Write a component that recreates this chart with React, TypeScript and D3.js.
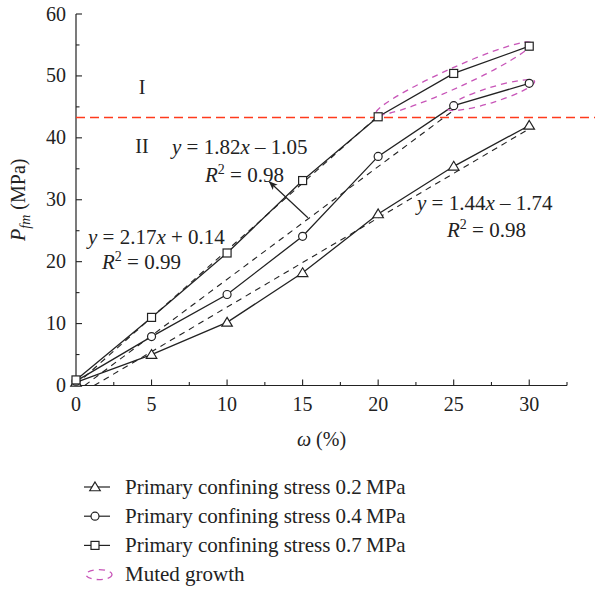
import React from "react";
import * as d3 from "d3";

const xValues = [0, 5, 10, 15, 20, 25, 30];
const series02 = [0.5, 5.0, 10.2, 18.2, 27.7, 35.4, 42.0];
const series04 = [0.7, 7.9, 14.7, 24.1, 37.0, 45.2, 48.8];
const series07 = [0.9, 11.0, 21.4, 33.1, 43.4, 50.4, 54.8];
const xTicks = [0, 5, 10, 15, 20, 25, 30];
const yTicks = [0, 10, 20, 30, 40, 50, 60];
const legendLabels = [
  "Primary confining stress 0.2\u2009MPa",
  "Primary confining stress 0.4\u2009MPa",
  "Primary confining stress 0.7\u2009MPa",
  "Muted growth",
];
// fits: slope, intercept, x range
const fit02 = { a: 1.44, b: -1.74, x0: 1.2, x1: 30 };
const fit04 = { a: 1.82, b: -1.05, x0: 0.58, x1: 25 };
const fit07 = { a: 2.17, b: 0.14, x0: 0, x1: 20 };
const thresholdY = 43.3;
// ellipse tips in data units
const ellipseUpper = [[19.85, 43.9], [30.15, 55.3]];
const ellipseLower = [[24.6, 44.7], [30.35, 49.1]];
const arrowFrom = [15.35, 27.1];
const arrowTo = [12.8, 32.9];

const W = 595;
const H = 591;
const FONT = "'Liberation Serif', 'Times New Roman', serif";

export default function App() {
  const x = d3.scaleLinear().domain([0, 32.5]).range([76, 567]);
  const y = d3.scaleLinear().domain([0, 60]).range([385.5, 14]);
  const line = d3
    .line<[number, number]>()
    .x((d) => x(d[0]))
    .y((d) => y(d[1]));

  const seriesList = [
    { vals: series02, shape: "tri" },
    { vals: series04, shape: "circ" },
    { vals: series07, shape: "sq" },
  ];
  const fits = [fit02, fit04, fit07];

  const marker = (shape: string, cx: number, cy: number, key: string) => {
    const st = { fill: "#fff", stroke: "#222", strokeWidth: 1.2 };
    if (shape === "sq")
      return <rect key={key} x={cx - 4} y={cy - 4} width={8} height={8} {...st} />;
    if (shape === "circ") return <circle key={key} cx={cx} cy={cy} r={4} {...st} />;
    const s = 5;
    return (
      <path
        key={key}
        d={`M${cx},${cy - s} L${cx + s * 1.05},${cy + s * 0.75} L${cx - s * 1.05},${cy + s * 0.75} Z`}
        {...st}
      />
    );
  };

  const ellipse = (tips: number[][], ry: number, key: string) => {
    const [p0, p1] = tips;
    const ax = x(p0[0]), ay = y(p0[1]), bx = x(p1[0]), by = y(p1[1]);
    const cx = (ax + bx) / 2, cy = (ay + by) / 2;
    const rx = Math.hypot(bx - ax, by - ay) / 2;
    const ang = (Math.atan2(by - ay, bx - ax) * 180) / Math.PI;
    return (
      <ellipse
        key={key}
        cx={cx}
        cy={cy}
        rx={rx}
        ry={ry}
        transform={`rotate(${ang},${cx},${cy})`}
        fill="none"
        stroke="#c855b8"
        strokeWidth={1.3}
        strokeDasharray="6,5"
      />
    );
  };

  const xMinor = d3.range(0, 32.6, 2.5);
  const yMinor = d3.range(0, 60.1, 5);

  const eq = (lx: number, by: number, a: string, sign: string, b: string, key: string) => (
    <text key={key} x={lx} y={by} fontFamily={FONT} fontSize={21} fill="#222">
      <tspan fontStyle="italic">y</tspan>
      <tspan>{` = ${a}`}</tspan>
      <tspan fontStyle="italic">x</tspan>
      <tspan>{` ${sign} ${b}`}</tspan>
    </text>
  );
  const r2 = (lx: number, by: number, v: string, key: string) => (
    <text key={key} x={lx} y={by} fontFamily={FONT} fontSize={21} fill="#222">
      <tspan fontStyle="italic">R</tspan>
      <tspan fontSize={14} dy={-8}>2</tspan>
      <tspan dy={8}>{` = ${v}`}</tspan>
    </text>
  );

  return (
    <svg
      width={W}
      height={H}
      style={{ position: "absolute", left: 0, top: 0, background: "#fff" }}
      fontFamily={FONT}
    >
      <defs>
        <marker id="ah" viewBox="0 0 10 10" refX="9" refY="5" markerWidth="9" markerHeight="9" orient="auto-start-reverse" markerUnits="userSpaceOnUse">
          <path d="M0,1 L10,5 L0,9 L2.5,5 Z" fill="#222" />
        </marker>
      </defs>
      <rect x={0} y={0} width={W} height={H} fill="#fff" />

      {/* axes */}
      <line x1={x(0)} x2={x(32.5)} y1={y(0)} y2={y(0)} stroke="#222" strokeWidth={1.2} />
      <line x1={x(0)} x2={x(0)} y1={y(0)} y2={y(60)} stroke="#222" strokeWidth={1.2} />
      {xMinor.map((v, i) => (
        <line key={"xt" + i} x1={x(v)} x2={x(v)} y1={y(0)} y2={y(0) - (i % 2 === 0 ? 6 : 3.5)} stroke="#222" strokeWidth={1.1} />
      ))}
      {yMinor.map((v, i) => (
        <line key={"yt" + i} x1={x(0)} x2={x(0) + (i % 2 === 0 ? 6 : 3.5)} y1={y(v)} y2={y(v)} stroke="#222" strokeWidth={1.1} />
      ))}
      {xTicks.map((v) => (
        <text key={"xl" + v} x={x(v)} y={411} textAnchor="middle" fontSize={20} fill="#222">
          {v}
        </text>
      ))}
      {yTicks.map((v) => (
        <text key={"yl" + v} x={66} y={y(v) + 6.5} textAnchor="end" fontSize={20} fill="#222">
          {v}
        </text>
      ))}
      <text x={(x(0) + x(32.5)) / 2} y={446} textAnchor="middle" fontSize={20} fill="#222">
        <tspan fontStyle="italic">ω</tspan>
        <tspan> (%)</tspan>
      </text>
      <text transform={`translate(25,${(y(0) + y(60)) / 2}) rotate(-90)`} textAnchor="middle" fontSize={20} fill="#222">
        <tspan fontStyle="italic">P</tspan>
        <tspan fontStyle="italic" fontSize={14} dy={5}>fm</tspan>
        <tspan dy={-5}> (MPa)</tspan>
      </text>

      {/* threshold */}
      <line x1={x(0)} x2={W} y1={y(thresholdY)} y2={y(thresholdY)} stroke="#ff3b1c" strokeWidth={1.5} strokeDasharray="9,5" />

      {/* fits */}
      {fits.map((f, i) => (
        <path
          key={"fit" + i}
          d={line([[f.x0, f.a * f.x0 + f.b], [f.x1, f.a * f.x1 + f.b]]) || ""}
          fill="none"
          stroke="#222"
          strokeWidth={1.1}
          strokeDasharray="6,5"
        />
      ))}

      {/* series */}
      {seriesList.map((s, i) => (
        <path
          key={"s" + i}
          d={line(xValues.map((xv, j) => [xv, s.vals[j]] as [number, number])) || ""}
          fill="none"
          stroke="#222"
          strokeWidth={1.3}
        />
      ))}

      {/* ellipses */}
      {ellipse(ellipseUpper, 10, "eu")}
      {ellipse(ellipseLower, 7.5, "el")}

      {seriesList.map((s, i) =>
        xValues.map((xv, j) => marker(s.shape, x(xv), y(s.vals[j]), `m${i}-${j}`))
      )}

      {/* arrow */}
      <line x1={x(arrowFrom[0])} y1={y(arrowFrom[1])} x2={x(arrowTo[0])} y2={y(arrowTo[1])} stroke="#222" strokeWidth={1.2} markerEnd="url(#ah)" />

      {/* region labels */}
      <text x={142} y={94} textAnchor="middle" fontSize={20} fill="#222">I</text>
      <text x={142} y={153} textAnchor="middle" fontSize={20} fill="#222">II</text>

      {/* equations */}
      {eq(172, 153.5, "1.82", "\u2013", "1.05", "e1")}
      {r2(205, 181.5, "0.98", "r1")}
      {eq(88, 243.5, "2.17", "+", "0.14", "e2")}
      {r2(102, 268.5, "0.99", "r2")}
      {eq(417, 209.5, "1.44", "\u2013", "1.74", "e3")}
      {r2(447, 236.5, "0.98", "r3")}

      {/* legend */}
      {legendLabels.map((lab, i) => {
        const cy = 487 + i * 29.2;
        return (
          <g key={"lg" + i}>
            {i < 3 ? (
              <>
                <line x1={84} x2={110} y1={cy} y2={cy} stroke="#222" strokeWidth={1.2} />
                {marker(["tri", "circ", "sq"][i], 95, cy, "lm" + i)}
              </>
            ) : (
              <ellipse cx={99} cy={cy} rx={13} ry={5} fill="none" stroke="#c855b8" strokeWidth={1.3} strokeDasharray="6,5" />
            )}
            <text x={125} y={cy + 6.5} fontSize={21} fill="#222">
              {lab}
            </text>
          </g>
        );
      })}
    </svg>
  );
}
